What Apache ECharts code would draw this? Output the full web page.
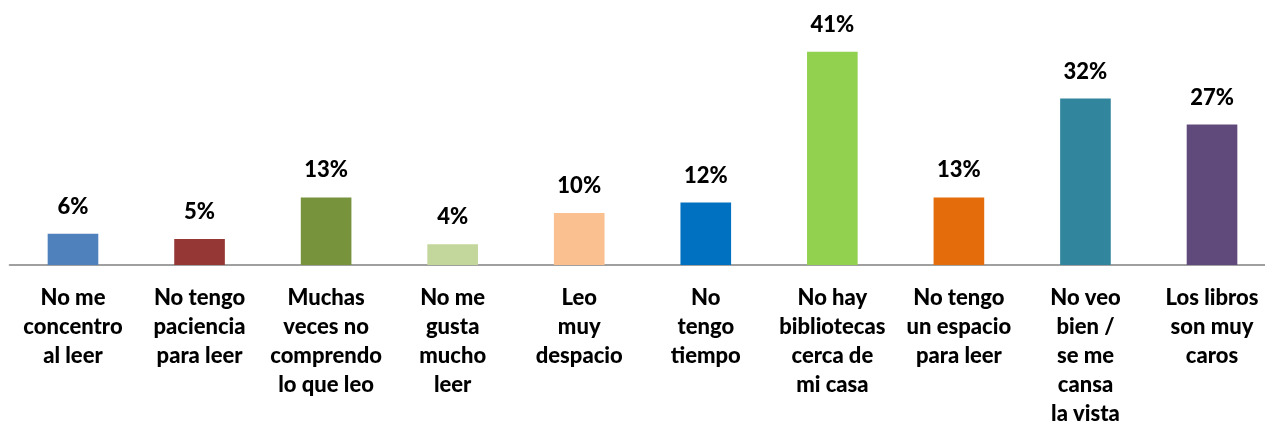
<!DOCTYPE html>
<html>
<head>
<meta charset="utf-8">
<script src="https://cdn.jsdelivr.net/npm/echarts@6/dist/echarts.min.js"></script>
<style>
html,body{margin:0;padding:0;background:#fff;}
#c{width:1265px;height:422px;}
</style>
</head>
<body>
<div id="c"></div>
<script>
const categories = [
  "No me\nconcentro\nal leer",
  "No tengo\npaciencia\npara leer",
  "Muchas\nveces no\ncomprendo\nlo que leo",
  "No me\ngusta\nmucho\nleer",
  "Leo\nmuy\ndespacio",
  "No\ntengo\ntiempo",
  "No hay\nbibliotecas\ncerca de\nmi casa",
  "No tengo\nun espacio\npara leer",
  "No veo\nbien /\nse me\ncansa\nla vista",
  "Los libros\nson muy\ncaros"
];
const values = [6, 5, 13, 4, 10, 12, 41, 13, 32, 27];
const colors = ["#4F81BD", "#953735", "#77933C", "#C3D69B", "#FAC090", "#0070C0", "#92D050", "#E46C0A", "#31859C", "#604A7B"];

const chart = echarts.init(document.getElementById('c'), null, {renderer: 'canvas'});
const FONT = 'Lato, "Open Sans", sans-serif';
chart.setOption({
  animation: false,
  backgroundColor: '#fff',
  grid: {left: 9.7, top: 31, width: 1265.6, height: 234, containLabel: false, outerBoundsMode: 'none'},
  xAxis: {
    type: 'category',
    data: categories,
    axisLine: {show: true, lineStyle: {color: '#A0A0A0', width: 2}},
    axisTick: {show: false},
    axisLabel: {
      interval: 0,
      margin: 18,
      color: '#000',
      fontFamily: FONT,
      fontWeight: 900,
      fontSize: 22,
      lineHeight: 29
    }
  },
  yAxis: {
    type: 'value', min: 0, max: 45,
    show: false,
    splitLine: {show: false}
  },
  series: [{
    type: 'bar',
    data: values.map((v, i) => ({value: v, itemStyle: {color: colors[i]}})),
    barWidth: '40%',
    label: {
      show: true,
      position: 'top',
      distance: 16,
      lineHeight: 22,
      formatter: p => p.value + '%',
      color: '#000',
      fontFamily: FONT,
      fontWeight: 900,
      fontSize: 22
    }
  }]
});
</script>
</body>
</html>
